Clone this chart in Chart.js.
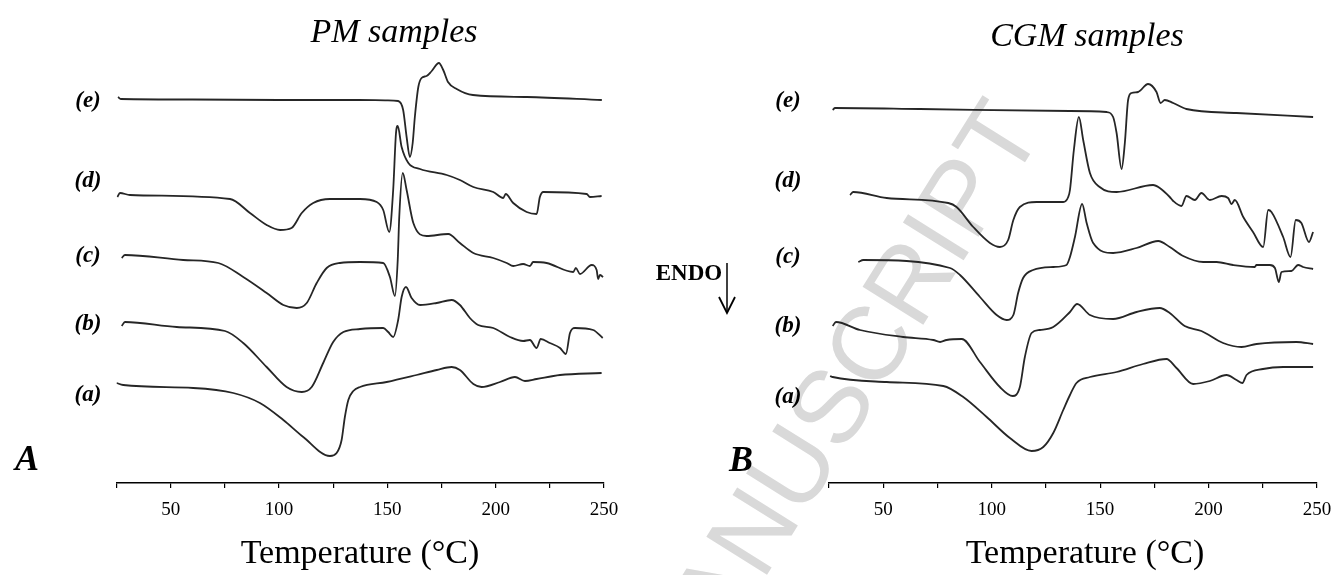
<!DOCTYPE html>
<html>
<head>
<meta charset="utf-8">
<title>DSC thermograms - PM and CGM samples</title>
<script src="https://cdn.jsdelivr.net/npm/chart.js@4.4.0/dist/chart.umd.min.js"></script>
<style>
  html, body { margin: 0; padding: 0; background: #fff; }
  body { position: relative; width: 1331px; height: 575px; overflow: hidden; font-family: "Liberation Serif", "Times New Roman", serif; }
  canvas { position: absolute; top: 0; z-index: 1; }
  .txt { position: absolute; transform: translate(-50%, -50%); line-height: 1; white-space: nowrap; color: #000; z-index: 2; }
  .title { font-style: italic; font-size: 34px; }
  .lbl { font-style: italic; font-weight: bold; font-size: 23px; }
  .panel { font-style: italic; font-weight: bold; font-size: 36px; }
  .axis-title { font-size: 34px; }
  .endo { font-weight: bold; font-size: 23px; }
  #watermark {
    position: absolute; left: 334px; top: 1148px; z-index: 0;
    font-family: "Liberation Sans", Arial, sans-serif; font-size: 104px; line-height: 1;
    color: #d9d9d9; white-space: nowrap;
    transform-origin: 0 50%; transform: rotate(-58deg);
  }
  #arrow { position: absolute; left: 715px; top: 258px; z-index: 2; }
</style>
</head>
<body>
<div id="watermark">ACCEPTED MANUSCRIPT</div>

<canvas id="pmChart" width="630" height="575" style="left:0"></canvas>
<canvas id="cgmChart" width="650" height="575" style="left:700px"></canvas>

<div class="txt title" style="left:394px; top:31px">PM samples</div>
<div class="txt title" style="left:1087px; top:35px">CGM samples</div>

<div class="txt lbl" style="left:88px; top:99px">(e)</div>
<div class="txt lbl" style="left:88px; top:179px">(d)</div>
<div class="txt lbl" style="left:88px; top:254px">(c)</div>
<div class="txt lbl" style="left:88px; top:322px">(b)</div>
<div class="txt lbl" style="left:88px; top:393px">(a)</div>

<div class="txt lbl" style="left:788px; top:99px">(e)</div>
<div class="txt lbl" style="left:788px; top:179px">(d)</div>
<div class="txt lbl" style="left:788px; top:255px">(c)</div>
<div class="txt lbl" style="left:788px; top:324px">(b)</div>
<div class="txt lbl" style="left:788px; top:395px">(a)</div>

<div class="txt panel" style="left:27px; top:458px">A</div>
<div class="txt panel" style="left:741px; top:459px">B</div>

<div class="txt endo" style="left:689px; top:272px">ENDO</div>
<svg id="arrow" width="30" height="60" viewBox="0 0 30 60">
  <line x1="12" y1="5" x2="12" y2="55" stroke="#000" stroke-width="1.5"/>
  <polyline points="4,39 12,55 20,39" fill="none" stroke="#000" stroke-width="1.8"/>
</svg>

<div class="txt axis-title" style="left:360px; top:552px">Temperature (°C)</div>
<div class="txt axis-title" style="left:1085px; top:552px">Temperature (°C)</div>

<script>
// ─── Axis settings ───────────────────────────────────────────────────
const TEMP_MIN = 25;
const TEMP_MAX = 250;
const TICK_STEP = 25;      // tick marks every 25 °C, labels every 50 °C
const LABEL_STEP = 50;

// ─── Heat-flow traces (arbitrary units, offset per curve)
// PM samples
const pmE_T = [25.7, 27, 60, 100, 137, 150, 155, 157.3, 158.9, 160.4, 161.7, 162.7, 164.3, 165.8, 168.1, 170.5, 173.8, 175.8, 178, 182, 189.5, 214.4, 249];
const pmE_V = [386, 384, 383.5, 383, 383, 382.7, 382, 373, 346, 326, 340, 366, 396, 405, 407, 412, 420, 413, 401, 394, 388, 386, 383];

const pmD_T = [25.4, 26.6, 31.2, 77.4, 86.6, 94.3, 100.5, 105.8, 110.5, 115.8, 123.5, 137.4, 145.1, 148.1, 150.9, 152.7, 154.0, 154.8, 156.6, 159.7, 165.1, 177.4, 183.5, 189.7, 198.9, 203.5, 204.6, 208.1, 214.3, 218.9, 220.4, 222.0, 242.0, 243.5, 248.9];
const pmD_V = [286, 290, 288, 284, 270, 258, 253, 255, 270, 280, 284, 284, 281, 273, 251, 293, 350, 357, 336, 320, 314, 308, 303, 296, 291, 285, 289, 280, 271, 269, 286, 291, 289, 286, 287];

const pmC_T = [27.4, 28.9, 55.8, 72.0, 83.5, 94.3, 102.0, 108.2, 112.8, 117.4, 122.0, 128.1, 137.4, 148.1, 151.2, 153.5, 154.8, 155.5, 157.1, 158.9, 162.0, 168.1, 178.1, 183.5, 189.7, 198.9, 205.1, 208.1, 212.7, 215.8, 217.3, 223.5, 235.8, 237.0, 238.9, 244.3, 246.6, 247.3, 248.1, 249.6];
const pmC_V = [225, 228, 223, 220, 206, 190, 178, 175, 180, 200, 215, 220, 221, 220, 206, 187, 223, 266, 310, 293, 260, 247, 249, 240, 230, 225, 220, 217, 219, 217, 221, 220, 211, 215, 209, 218, 213, 204, 208, 206];

const pmB_T = [27.4, 28.9, 52.8, 75.1, 83.5, 94.3, 103.5, 110.5, 115.1, 120.4, 125.0, 129.7, 137.4, 148.1, 150.4, 152.7, 155.0, 156.6, 158.6, 161.2, 165.1, 172.8, 179.7, 183.5, 188.1, 191.9, 198.9, 206.6, 212.7, 215.8, 218.9, 220.8, 225.0, 229.7, 232.4, 234.3, 236.6, 245.0, 249.4];
const pmB_V = [157, 161, 156, 152, 140, 116, 96, 91, 96, 120, 141, 151, 154, 155, 151, 146, 163, 186, 196, 185, 178, 180, 183, 178, 165, 158, 155, 146, 142, 143, 135, 144, 140, 135, 129, 150, 155, 153, 145];

const pmA_T = [25, 28.1, 60.4, 78.9, 91.2, 102.0, 111.2, 123.5, 126.6, 128.9, 130.4, 132.0, 134.3, 137.4, 149.7, 163.5, 172.8, 179.7, 183.5, 189.7, 193.5, 202.0, 208.9, 213.5, 218.9, 229.7, 248.9];
const pmA_V = [100, 98, 95, 90, 80, 63, 46, 27, 30, 43, 66, 83, 92, 96, 101, 108, 113, 116, 113, 99, 96, 101, 106, 102, 104, 108, 110];

// CGM samples
const cgmE_T = [26.7, 27.8, 66.9, 136.1, 153.0, 156.0, 157.6, 159.9, 161.4, 162.9, 164.5, 167.5, 172.1, 176.0, 177.9, 179.8, 183.7, 189.8, 212.9, 248.2];
const cgmE_V = [373, 375, 374, 372, 371, 366, 350, 314, 340, 383, 390, 391, 399, 391, 380, 383, 380, 374, 370, 366];

const cgmD_T = [34.7, 36.2, 51.6, 80.0, 83.8, 91.5, 99.2, 103.8, 107.6, 110.0, 113.0, 120.7, 133.0, 135.3, 136.1, 137.9, 140.2, 142.2, 145.3, 149.8, 157.6, 174.4, 177.5, 182.1, 183.7, 187.5, 189.8, 193.7, 196.7, 200.6, 206.0, 209.0, 210.6, 212.1, 216.0, 220.5, 225.2, 227.5, 229.0, 234.4, 237.8, 240.2, 242.8, 246.3, 248.2];
const cgmD_V = [288, 291, 285, 280, 276, 256, 240, 236, 243, 263, 276, 281, 281, 286, 293, 333, 366, 343, 310, 296, 291, 298, 295, 286, 282, 277, 287, 283, 290, 283, 287, 285, 279, 283, 266, 251, 236, 273, 271, 246, 226, 263, 260, 241, 251];

const cgmC_T = [38.5, 40.8, 80.8, 85.4, 94.6, 102.3, 106.9, 110.0, 112.2, 114.5, 119.1, 128.4, 134.5, 136.1, 138.4, 141.7, 143.8, 146.8, 156.0, 166.8, 176.8, 182.1, 188.3, 197.5, 203.7, 211.3, 221.3, 222.1, 228.3, 230.6, 232.4, 233.6, 238.2, 241.3, 243.6, 248.2];
const cgmC_V = [221, 223, 215, 208, 186, 168, 163, 168, 190, 205, 213, 216, 218, 226, 246, 279, 260, 240, 230, 235, 242, 236, 227, 221, 221, 218, 216, 218, 218, 215, 201, 211, 212, 218, 216, 214];

const cgmB_T = [26.7, 28.2, 39.3, 59.2, 73.1, 76.2, 79.2, 86.2, 94.6, 103.8, 109.7, 113.0, 115.3, 118.4, 122.2, 128.4, 136.1, 139.4, 145.3, 156.0, 166.8, 177.5, 182.1, 189.0, 196.7, 206.7, 215.2, 222.1, 240.5, 248.2];
const cgmB_V = [157, 161, 153, 146, 143, 141, 143, 144, 121, 96, 87, 96, 126, 150, 153, 156, 171, 179, 168, 164, 171, 175, 170, 157, 152, 140, 136, 139, 141, 139];

const cgmA_T = [25.5, 26.7, 51.6, 77.7, 86.9, 97.7, 108.4, 118.4, 123.8, 128.4, 133.0, 136.1, 139.1, 145.3, 157.6, 169.8, 180.6, 185.2, 192.9, 200.6, 208.3, 212.9, 215.6, 217.5, 225.1, 234.4, 248.2];
const cgmA_V = [107, 106, 101, 97, 86, 66, 45, 32, 36, 50, 73, 88, 100, 106, 111, 119, 124, 115, 99, 102, 108, 103, 100, 108, 114, 116, 116];

// ─── Styling ─────────────────────────────────────────────────────────
const LINE_COLOR = "#262626";
const SERIF = '"Liberation Serif", "Times New Roman", serif';

function toPoints(temps, values) {
  return temps.map((t, i) => ({ x: t, y: values[i] }));
}

// one panel = one chart; the y axis is hidden (curves are offset traces)
function drawPanel(canvasId, curves, padLeft, padRight) {
  const ctx = document.getElementById(canvasId).getContext("2d");
  return new Chart(ctx, {
    type: "line",
    data: {
      datasets: curves.map(([label, temps, values]) => ({
        label,
        data: toPoints(temps, values),
        borderColor: LINE_COLOR,
        borderWidth: 1.8,
        pointRadius: 0,
        fill: false,
        cubicInterpolationMode: "monotone",
      })),
    },
    options: {
      responsive: false,
      animation: false,
      layout: { padding: { left: padLeft, right: padRight, top: 43, bottom: 42.2 } },
      plugins: {
        legend: { display: false },
        tooltip: { enabled: false },
      },
      scales: {
        x: {
          type: "linear",
          min: TEMP_MIN,
          max: TEMP_MAX,
          border: { display: true, color: "#000", width: 1.5 },
          grid: { drawOnChartArea: false, drawTicks: true, tickLength: 5, color: "#000", lineWidth: 1.2 },
          ticks: {
            stepSize: TICK_STEP,
            autoSkip: false,
            maxRotation: 0,
            padding: 11,
            color: "#000",
            font: { family: SERIF, size: 19 },
            callback: (v) => (v % LABEL_STEP === 0 ? v : ""),
          },
        },
        y: { display: false, min: 0, max: 440 },
      },
    },
  });
}

drawPanel("pmChart", [
  ["(e)", pmE_T, pmE_V],
  ["(d)", pmD_T, pmD_V],
  ["(c)", pmC_T, pmC_V],
  ["(b)", pmB_T, pmB_V],
  ["(a)", pmA_T, pmA_V],
], 116.5, 26);

drawPanel("cgmChart", [
  ["(e)", cgmE_T, cgmE_V],
  ["(d)", cgmD_T, cgmD_V],
  ["(c)", cgmC_T, cgmC_V],
  ["(b)", cgmB_T, cgmB_V],
  ["(a)", cgmA_T, cgmA_V],
], 129, 33);
</script>
</body>
</html>
